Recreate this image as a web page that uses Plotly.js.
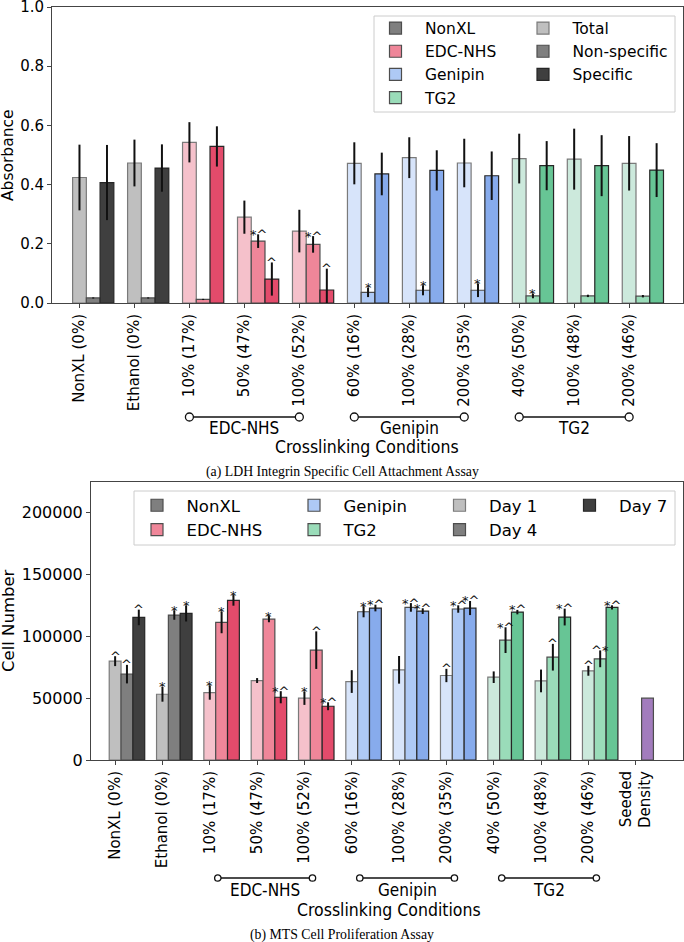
<!DOCTYPE html>
<html>
<head>
<meta charset="utf-8">
<script src="https://cdn.plot.ly/plotly-3.0.1.min.js"></script>
<style>
  body { margin: 0; background: #fff; }
  #chart { width: 684px; height: 942px; }
</style>
</head>
<body>
<div id="chart"></div>
<script>
// ---- data: (a) LDH integrin specific cell attachment ----
let ldh_labels = ["NonXL (0%)", "Ethanol (0%)", "10% (17%)", "50% (47%)", "100% (52%)",
  "60% (16%)", "100% (28%)", "200% (35%)", "40% (50%)", "100% (48%)", "200% (46%)"];
let ldh_groups = ["NonXL", "NonXL", "EDC-NHS", "EDC-NHS", "EDC-NHS",
  "Genipin", "Genipin", "Genipin", "TG2", "TG2", "TG2"];
let ldh_total = [0.424, 0.473, 0.543, 0.290, 0.243, 0.472, 0.491, 0.473, 0.488, 0.486, 0.472];
let ldh_total_err = [0.111, 0.079, 0.068, 0.056, 0.072, 0.071, 0.069, 0.082, 0.084, 0.103, 0.092];
let ldh_nonspec = [0.017, 0.017, 0.012, 0.209, 0.198, 0.036, 0.043, 0.043, 0.024, 0.024, 0.023];
let ldh_nonspec_err = [0.002, 0.002, 0.002, 0.023, 0.028, 0.016, 0.017, 0.023, 0.008, 0.004, 0.004];
let ldh_specific = [0.407, 0.456, 0.529, 0.081, 0.044, 0.436, 0.448, 0.430, 0.464, 0.464, 0.449];
let ldh_specific_err = [0.127, 0.080, 0.068, 0.056, 0.072, 0.072, 0.068, 0.082, 0.083, 0.103, 0.091];
let ldh_nonspec_sig = ["", "", "", "*^", "*^", "*", "*", "*", "*", "", ""];
let ldh_specific_sig = ["", "", "", "^", "^", "", "", "", "", "", ""];

// ---- data: (b) MTS cell proliferation ----
let mts_labels = ldh_labels.concat(["Seeded<br>Density"]);
let mts_groups = ldh_groups;
let mts_day1 = [80000, 53200, 54600, 64300, 50000, 63500, 73000, 68400, 67000, 64000, 72200];
let mts_day1_err = [4000, 6000, 5800, 2000, 5400, 9200, 11200, 5400, 4700, 9200, 4000];
let mts_day4 = [69500, 117300, 111400, 114000, 88900, 120000, 123500, 122200, 97000, 83200, 81900];
let mts_day4_err = [7500, 3800, 8800, 2500, 15200, 4500, 3500, 3000, 10400, 10800, 6800];
let mts_day7 = [115400, 118600, 129200, 50800, 43500, 123000, 120500, 123000, 119700, 115700, 123500];
let mts_day7_err = [6300, 6500, 4300, 4900, 3200, 2700, 2300, 5700, 1800, 6800, 1700];
let mts_day1_sig = ["^", "*", "*", "", "*", "", "", "^", "", "", "^"];
let mts_day4_sig = ["^", "*", "*", "*", "^", "*", "*^", "*^", "*^", "^", "^*"];
let mts_day7_sig = ["^", "*", "*", "*^", "*^", "*^", "*^", "*^", "*^", "*^", "*^"];
let seeded_density = [50000];

let crosslinkers = ["NonXL", "EDC-NHS", "Genipin", "TG2"];
let bracket_groups = ["EDC-NHS", "Genipin", "TG2"];

// ---- styles ----
let W = 684, H = 942;
let sans = "DejaVu Sans, sans-serif";
let narrow = "'DejaVu Sans Condensed', 'Liberation Sans Narrow', 'DejaVu Sans', sans-serif";
let serif = "'Liberation Serif', 'DejaVu Serif', serif";
let palette = {
  "NonXL": ["#bfbfbf", "#7f7f7f", "#3f3f3f"],
  "EDC-NHS": ["#f5c1cb", "#ef8699", "#e34b6b"],
  "Genipin": ["#d7e4fa", "#aec9f5", "#87abec"],
  "TG2": ["#cce9dc", "#9adcb9", "#67c595"],
};
let edge = ["#7a7a7a", "#4d4d4d", "#262626"];
let bar_w = 0.25;

function px_x(p) { return p / W; }
function px_y(p) { return 1 - p / H; }

function bar_trace(vals, errs, groups, shade, name, legend, xa, ya) {
  return {
    type: "bar",
    x: vals.map((v, i) => i + shade * bar_w),
    y: vals,
    width: bar_w,
    name: name,
    legend: legend,
    xaxis: xa,
    yaxis: ya,
    marker: {
      color: groups.map((g) => palette[g][shade]),
      line: { color: edge[shade], width: 1.2 },
    },
    error_y: { type: "data", array: errs, visible: true, width: 0, thickness: 2, color: "#111" },
  };
}

// legend-only entry: a zero-height bar far outside the axis range
function legend_entry(name, legend, xa, ya) {
  return {
    type: "bar", x: [-100], y: [0], name: name, legend: legend, xaxis: xa, yaxis: ya,
    hoverinfo: "skip",
    marker: { color: palette[name][1], line: { color: edge[1], width: 1.2 } },
  };
}

let annotations = [];
let shapes = [];

function note(extra, font) {
  return Object.assign({ showarrow: false, xanchor: "center", yanchor: "middle",
    font: Object.assign({ family: sans, color: "#000" }, font) }, extra);
}

function sig_notes(vals, errs, marks, shade, xref, yref) {
  marks.forEach((m, i) => {
    if (!m) return;
    annotations.push(note({ x: i + shade * bar_w, y: vals[i] + errs[i], xref: xref, yref: yref, text: m },
      { size: 13, color: "#111" }));
  });
}

function brackets(groups, xref, y_line, y_text, shift, r) {
  bracket_groups.forEach((g) => {
    let idx = groups.map((v, i) => (v === g ? i : -1)).filter((i) => i >= 0);
    let a = idx[0] + shift;
    let b = idx[idx.length - 1] + shift;
    shapes.push({ type: "line", xref: xref, yref: "paper", x0: a, x1: b, y0: y_line, y1: y_line,
      line: { color: "#111", width: 1.5 } });
    [a, b].forEach((x) => {
      shapes.push({ type: "circle", xref: xref, yref: "paper", xsizemode: "pixel", ysizemode: "pixel",
        xanchor: x, yanchor: y_line, x0: -r, x1: r, y0: -r, y1: r,
        fillcolor: "#fff", line: { color: "#111", width: 1.3 } });
    });
    annotations.push(note({ x: (a + b) / 2, y: y_text, xref: xref, yref: "paper", text: g },
      { family: narrow, size: 17 }));
  });
}

// ---- traces ----
let data = [];
crosslinkers.forEach((c) => data.push(legend_entry(c, "legend", "x", "y")));
data.push(bar_trace(ldh_total, ldh_total_err, ldh_groups, 0, "Total", "legend2", "x", "y"));
data.push(bar_trace(ldh_nonspec, ldh_nonspec_err, ldh_groups, 1, "Non-specific", "legend2", "x", "y"));
data.push(bar_trace(ldh_specific, ldh_specific_err, ldh_groups, 2, "Specific", "legend2", "x", "y"));

data.push(legend_entry("NonXL", "legend3", "x2", "y2"));
data.push(legend_entry("EDC-NHS", "legend3", "x2", "y2"));
data.push(legend_entry("Genipin", "legend4", "x2", "y2"));
data.push(legend_entry("TG2", "legend4", "x2", "y2"));
data.push(bar_trace(mts_day1, mts_day1_err, mts_groups, 0, "Day 1", "legend5", "x2", "y2"));
data.push(bar_trace(mts_day4, mts_day4_err, mts_groups, 1, "Day 4", "legend5", "x2", "y2"));
data.push(bar_trace(mts_day7, mts_day7_err, mts_groups, 2, "Day 7", "legend6", "x2", "y2"));
data.push({
  type: "bar", x: [mts_labels.length - 1 + bar_w], y: seeded_density, width: bar_w,
  xaxis: "x2", yaxis: "y2", showlegend: false, name: "Seeded Density",
  marker: { color: "#a27cbd", line: { color: "#4d4d4d", width: 1.2 } },
});

sig_notes(ldh_nonspec, ldh_nonspec_err, ldh_nonspec_sig, 1, "x", "y");
sig_notes(ldh_specific, ldh_specific_err, ldh_specific_sig, 2, "x", "y");
sig_notes(mts_day1, mts_day1_err, mts_day1_sig, 0, "x2", "y2");
sig_notes(mts_day4, mts_day4_err, mts_day4_sig, 1, "x2", "y2");
sig_notes(mts_day7, mts_day7_err, mts_day7_sig, 2, "x2", "y2");

brackets(ldh_groups, "x", px_y(417), px_y(428), 0, 4);
brackets(mts_groups, "x2", px_y(878), px_y(890), 0.17, 3.2);

// axis titles and captions
annotations.push(
  note({ x: px_x(8), y: px_y(155), xref: "paper", yref: "paper", text: "Absorbance", textangle: -90 },
    { size: 15.5 }),
  note({ x: px_x(8), y: px_y(621), xref: "paper", yref: "paper", text: "Cell Number", textangle: -90 },
    { size: 16.5 }),
  note({ x: px_x(367.5), y: px_y(447), xref: "paper", yref: "paper", text: "Crosslinking Conditions" },
    { family: narrow, size: 17.5 }),
  note({ x: px_x(389), y: px_y(910), xref: "paper", yref: "paper", text: "Crosslinking Conditions" },
    { family: narrow, size: 17.5 }),
  note({ x: px_x(342), y: px_y(472), xref: "paper", yref: "paper",
    text: "(a) LDH Integrin Specific Cell Attachment Assay" }, { family: serif, size: 13.8 }),
  note({ x: px_x(342), y: px_y(935), xref: "paper", yref: "paper",
    text: "(b) MTS Cell Proliferation Assay" }, { family: serif, size: 13.8 })
);

// legend frames
shapes.push(
  { type: "rect", xref: "paper", yref: "paper", x0: px_x(374), x1: px_x(675), y0: px_y(16), y1: px_y(112),
    line: { color: "#cccccc", width: 1 }, fillcolor: "rgba(255,255,255,0)", layer: "above" },
  { type: "rect", xref: "paper", yref: "paper", x0: px_x(134), x1: px_x(675), y0: px_y(491), y1: px_y(545),
    line: { color: "#cccccc", width: 1 }, fillcolor: "rgba(255,255,255,0)", layer: "above" }
);

function axis(extra) {
  return Object.assign({
    showline: true, mirror: true, linecolor: "#444", linewidth: 1,
    ticks: "outside", ticklen: 4, tickcolor: "#444", showgrid: false, zeroline: false,
    ticklabeloverflow: "allow",
    tickfont: { family: sans, size: 15, color: "#000" },
  }, extra);
}

function legend_at(x, y, size) {
  return {
    x: px_x(x), y: px_y(y), xanchor: "left", yanchor: "top", orientation: "v",
    bgcolor: "rgba(0,0,0,0)", borderwidth: 0, itemwidth: 49, traceorder: "normal",
    font: { family: sans, size: size, color: "#000" },
  };
}

let layout = {
  width: W,
  height: H,
  margin: { l: 0, r: 0, t: 0, b: 0 },
  paper_bgcolor: "#fff",
  plot_bgcolor: "#fff",
  barmode: "overlay",
  showlegend: true,
  xaxis: axis({
    domain: [px_x(52), px_x(683)], range: [-0.5, 10.98], anchor: "y",
    tickmode: "array", tickvals: ldh_labels.map((v, i) => i), ticktext: ldh_labels, tickangle: -90,
  }),
  yaxis: axis({
    domain: [px_y(303), px_y(7)], range: [0, 1.0001], anchor: "x",
    tickmode: "array", tickvals: [0, 0.2, 0.4, 0.6, 0.8, 1.0],
    ticktext: ["0.0", "0.2", "0.4", "0.6", "0.8", "1.0"],
  }),
  xaxis2: axis({
    domain: [px_x(91), px_x(683)], range: [-0.51, 12.0], anchor: "y2",
    tickmode: "array", tickvals: mts_labels.map((v, i) => i), ticktext: mts_labels, tickangle: -90,
  }),
  yaxis2: axis({
    domain: [px_y(760), px_y(482)], range: [0, 225000], anchor: "x2", dtick: 50000, tickformat: "d",
    tickfont: { family: sans, size: 16, color: "#000" },
  }),
  legend: legend_at(366, 11.5, 15.5),
  legend2: legend_at(513.5, 11.5, 15.5),
  legend3: legend_at(127.5, 488, 16.5),
  legend4: legend_at(284.5, 488, 16.5),
  legend5: legend_at(430, 488, 16.5),
  legend6: legend_at(560, 488, 16.5),
  annotations: annotations,
  shapes: shapes,
};

Plotly.newPlot("chart", data, layout, { displayModeBar: false, responsive: false });
</script>
</body>
</html>
